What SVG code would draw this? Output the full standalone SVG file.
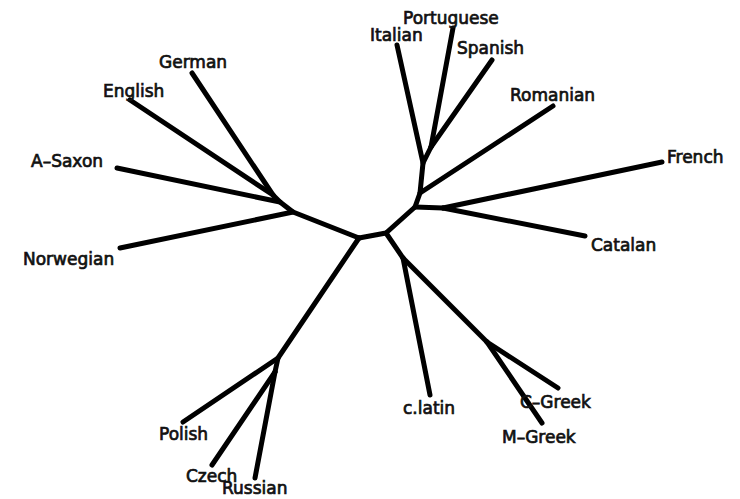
<svg xmlns="http://www.w3.org/2000/svg" width="740" height="499" viewBox="0 0 740 499">
  <style>
    .edge { fill: none; stroke: #000; stroke-width: 5; stroke-linecap: round; stroke-linejoin: round; }
    .lbl { font-family: "DejaVu Sans", "Liberation Sans", sans-serif; font-size: 17px; fill: #111; stroke: #111; stroke-width: 0.7; }
  </style>
  <rect width="740" height="499" fill="#fff"/>

  <!-- tree branches -->
  <g id="connectors" class="edge">
    <!-- central spine -->
    <path d="M359,238 L386,233 L415,207"/>
    <!-- Romance clade -->
    <path d="M415,207 L420,193 L423,163 L431,147"/>
    <path d="M423,163 L397,45"/>
    <path d="M431,147 L453,28"/>
    <path d="M431,147 L492,60"/>
    <path d="M420,193 L553,106"/>
    <path d="M415,207 L443,208"/>
    <path d="M443,208 L662,162"/>
    <path d="M443,208 L585,236"/>
    <!-- Germanic clade -->
    <path d="M359,238 L293,212 L280,202 L273,195"/>
    <path d="M273,195 L192,73"/>
    <path d="M273,195 L130,100"/>
    <path d="M280,202 L117,168"/>
    <path d="M293,212 L120,248"/>
    <!-- Slavic clade -->
    <path d="M359,238 L278,358 L275,372"/>
    <path d="M278,358 L183,422"/>
    <path d="M275,372 L212,465"/>
    <path d="M275,372 L255,478"/>
    <!-- Latin / Greek -->
    <path d="M386,233 L403,258"/>
    <path d="M403,258 L430,395"/>
    <path d="M403,258 L487,342"/>
    <path d="M487,342 L558,388"/>
    <path d="M487,342 L542,423"/>
  </g>

  <g id="italian"><text class="lbl" x="370" y="41">Italian</text></g>
  <g id="portuguese"><text class="lbl" x="403" y="24">Portuguese</text></g>
  <g id="spanish"><text class="lbl" x="457" y="54">Spanish</text></g>
  <g id="romanian"><text class="lbl" x="510" y="101">Romanian</text></g>
  <g id="french"><text class="lbl" x="667" y="163">French</text></g>
  <g id="catalan"><text class="lbl" x="591" y="251">Catalan</text></g>
  <g id="german"><text class="lbl" x="159" y="68">German</text></g>
  <g id="english"><text class="lbl" x="103" y="97">English</text></g>
  <g id="a-saxon"><text class="lbl" x="31" y="167">A–Saxon</text></g>
  <g id="norwegian"><text class="lbl" x="23" y="265">Norwegian</text></g>
  <g id="polish"><text class="lbl" x="159" y="440">Polish</text></g>
  <g id="czech"><text class="lbl" x="186" y="482">Czech</text></g>
  <g id="russian"><text class="lbl" x="222" y="494">Russian</text></g>
  <g id="c-latin"><text class="lbl" x="403" y="414">c.latin</text></g>
  <g id="c-greek"><text class="lbl" x="520" y="408">C–Greek</text></g>
  <g id="m-greek"><text class="lbl" x="502" y="443">M–Greek</text></g>
</svg>
